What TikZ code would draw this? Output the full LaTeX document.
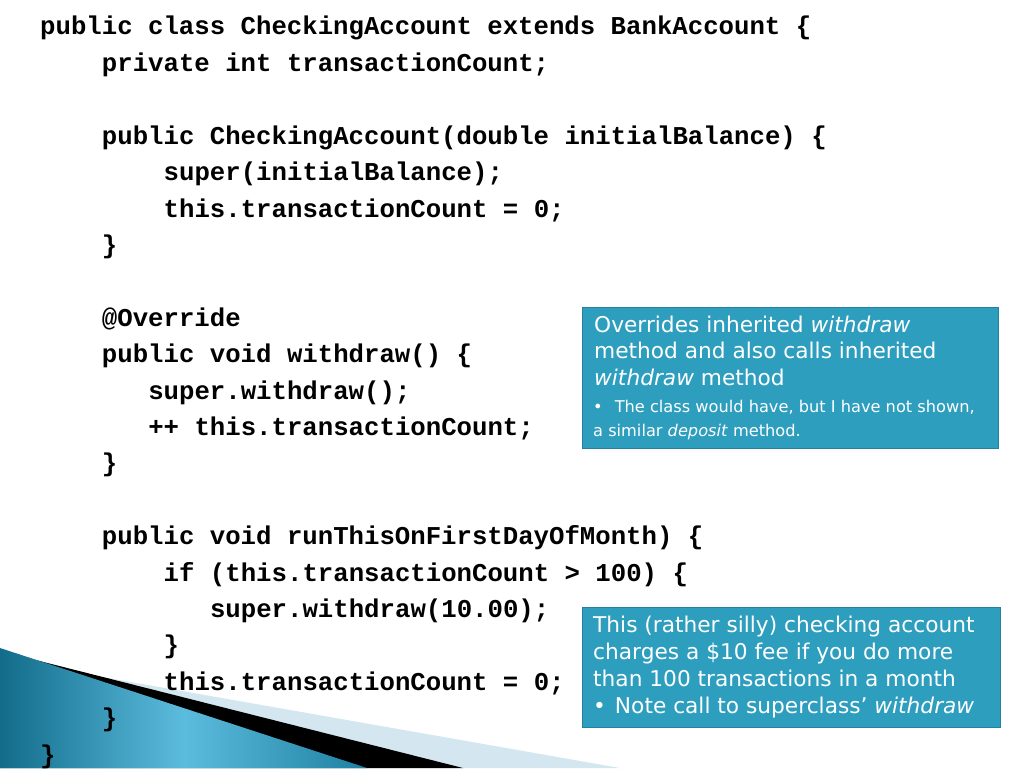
\documentclass[tikz,border=0pt]{standalone}
\usepackage{fontspec}
\setmainfont{DejaVu Sans}
\setmonofont{Liberation Mono}
\usetikzlibrary{positioning}
\definecolor{noteteal}{RGB}{46,158,190}
\definecolor{noteedge}{RGB}{38,128,158}
\definecolor{swooshpale}{RGB}{212,230,239}
\definecolor{swooshdark}{RGB}{18,108,138}
\definecolor{swooshlight}{RGB}{92,188,222}
\definecolor{swooshtip}{RGB}{30,128,162}
\tikzstyle{codeline}=[anchor=base west,inner sep=0pt,font=\fontsize{25.7}{30}\selectfont\ttfamily\bfseries]
\tikzstyle{notebox}=[draw=noteedge,fill=noteteal,anchor=north west,inner sep=0pt]
\tikzstyle{notetext}=[anchor=base west,inner sep=0pt,text=white,font=\fontsize{21.7}{26}\selectfont]
\tikzstyle{notesmall}=[notetext,font=\fontsize{16.2}{19}\selectfont]

\begin{document}
\begin{tikzpicture}[x=1pt,y=-1pt]

  \useasboundingbox (0,0) rectangle (1024,768);

  % swoosh in the lower left corner
  \fill[swooshpale] (0,659) -- (620,768) -- (0,768) -- cycle;
  \fill[black] (0,651) -- (463,768) -- (0,768) -- cycle;
  \shade[left color=swooshdark,right color=swooshtip,middle color=swooshlight] (0,648) -- (367,768) -- (0,768) -- cycle;

  \def\cw{15.44};
  \def\lh{36.4};

  \foreach \k/\ind/\txt in {0/0/{public class CheckingAccount extends BankAccount \{},
      1/4/{private int transactionCount;},
      3/4/{public CheckingAccount(double initialBalance) \{},
      4/8/{super(initialBalance);},
      5/8/{this.transactionCount = 0;},
      6/4/{\}},
      8/4/{@Override},
      9/4/{public void withdraw() \{},
      10/7/{super.withdraw();},
      11/7/{++ this.transactionCount;},
      12/4/{\}},
      14/4/{public void runThisOnFirstDayOfMonth) \{},
      15/8/{if (this.transactionCount > 100) \{},
      16/11/{super.withdraw(10.00);},
      17/8/{\}},
      18/8/{this.transactionCount = 0;},
      19/4/{\}},
      20/0/{\}}}
          \node[codeline] (code\k) at (40+\ind*\cw, 35+\k*\lh) {\txt};

  % notes
  \node[notebox,minimum width=416pt,minimum height=141pt] (note1) at (582,307) {};
  \node[notebox,minimum width=418pt,minimum height=120pt] (note2) at (582,607) {};

  \foreach \x/\y/\name/\label in {594/332/n1a/{Overrides inherited \textit{withdraw}},
      594/358/n1b/{method and also calls inherited},
      594/385/n1c/{\textit{withdraw} method},
      593/632/n2a/{This (rather silly) checking account},
      593/659/n2b/{charges a \$10 fee if you do more},
      593/686/n2c/{than 100 transactions in a month},
      593/713/n2d/{•\hspace{9pt}Note call to superclass’ \textit{withdraw}}}
          \node[notetext] (\name) at (\x,\y) {\label};

  \foreach \x/\y/\name/\label in {593/412/n1d/{•\hspace{12pt}The class would have, but I have not shown,},
      593/436/n1e/{a similar \textit{deposit} method.}}
          \node[notesmall] (\name) at (\x,\y) {\label};

\end{tikzpicture}
\end{document}
